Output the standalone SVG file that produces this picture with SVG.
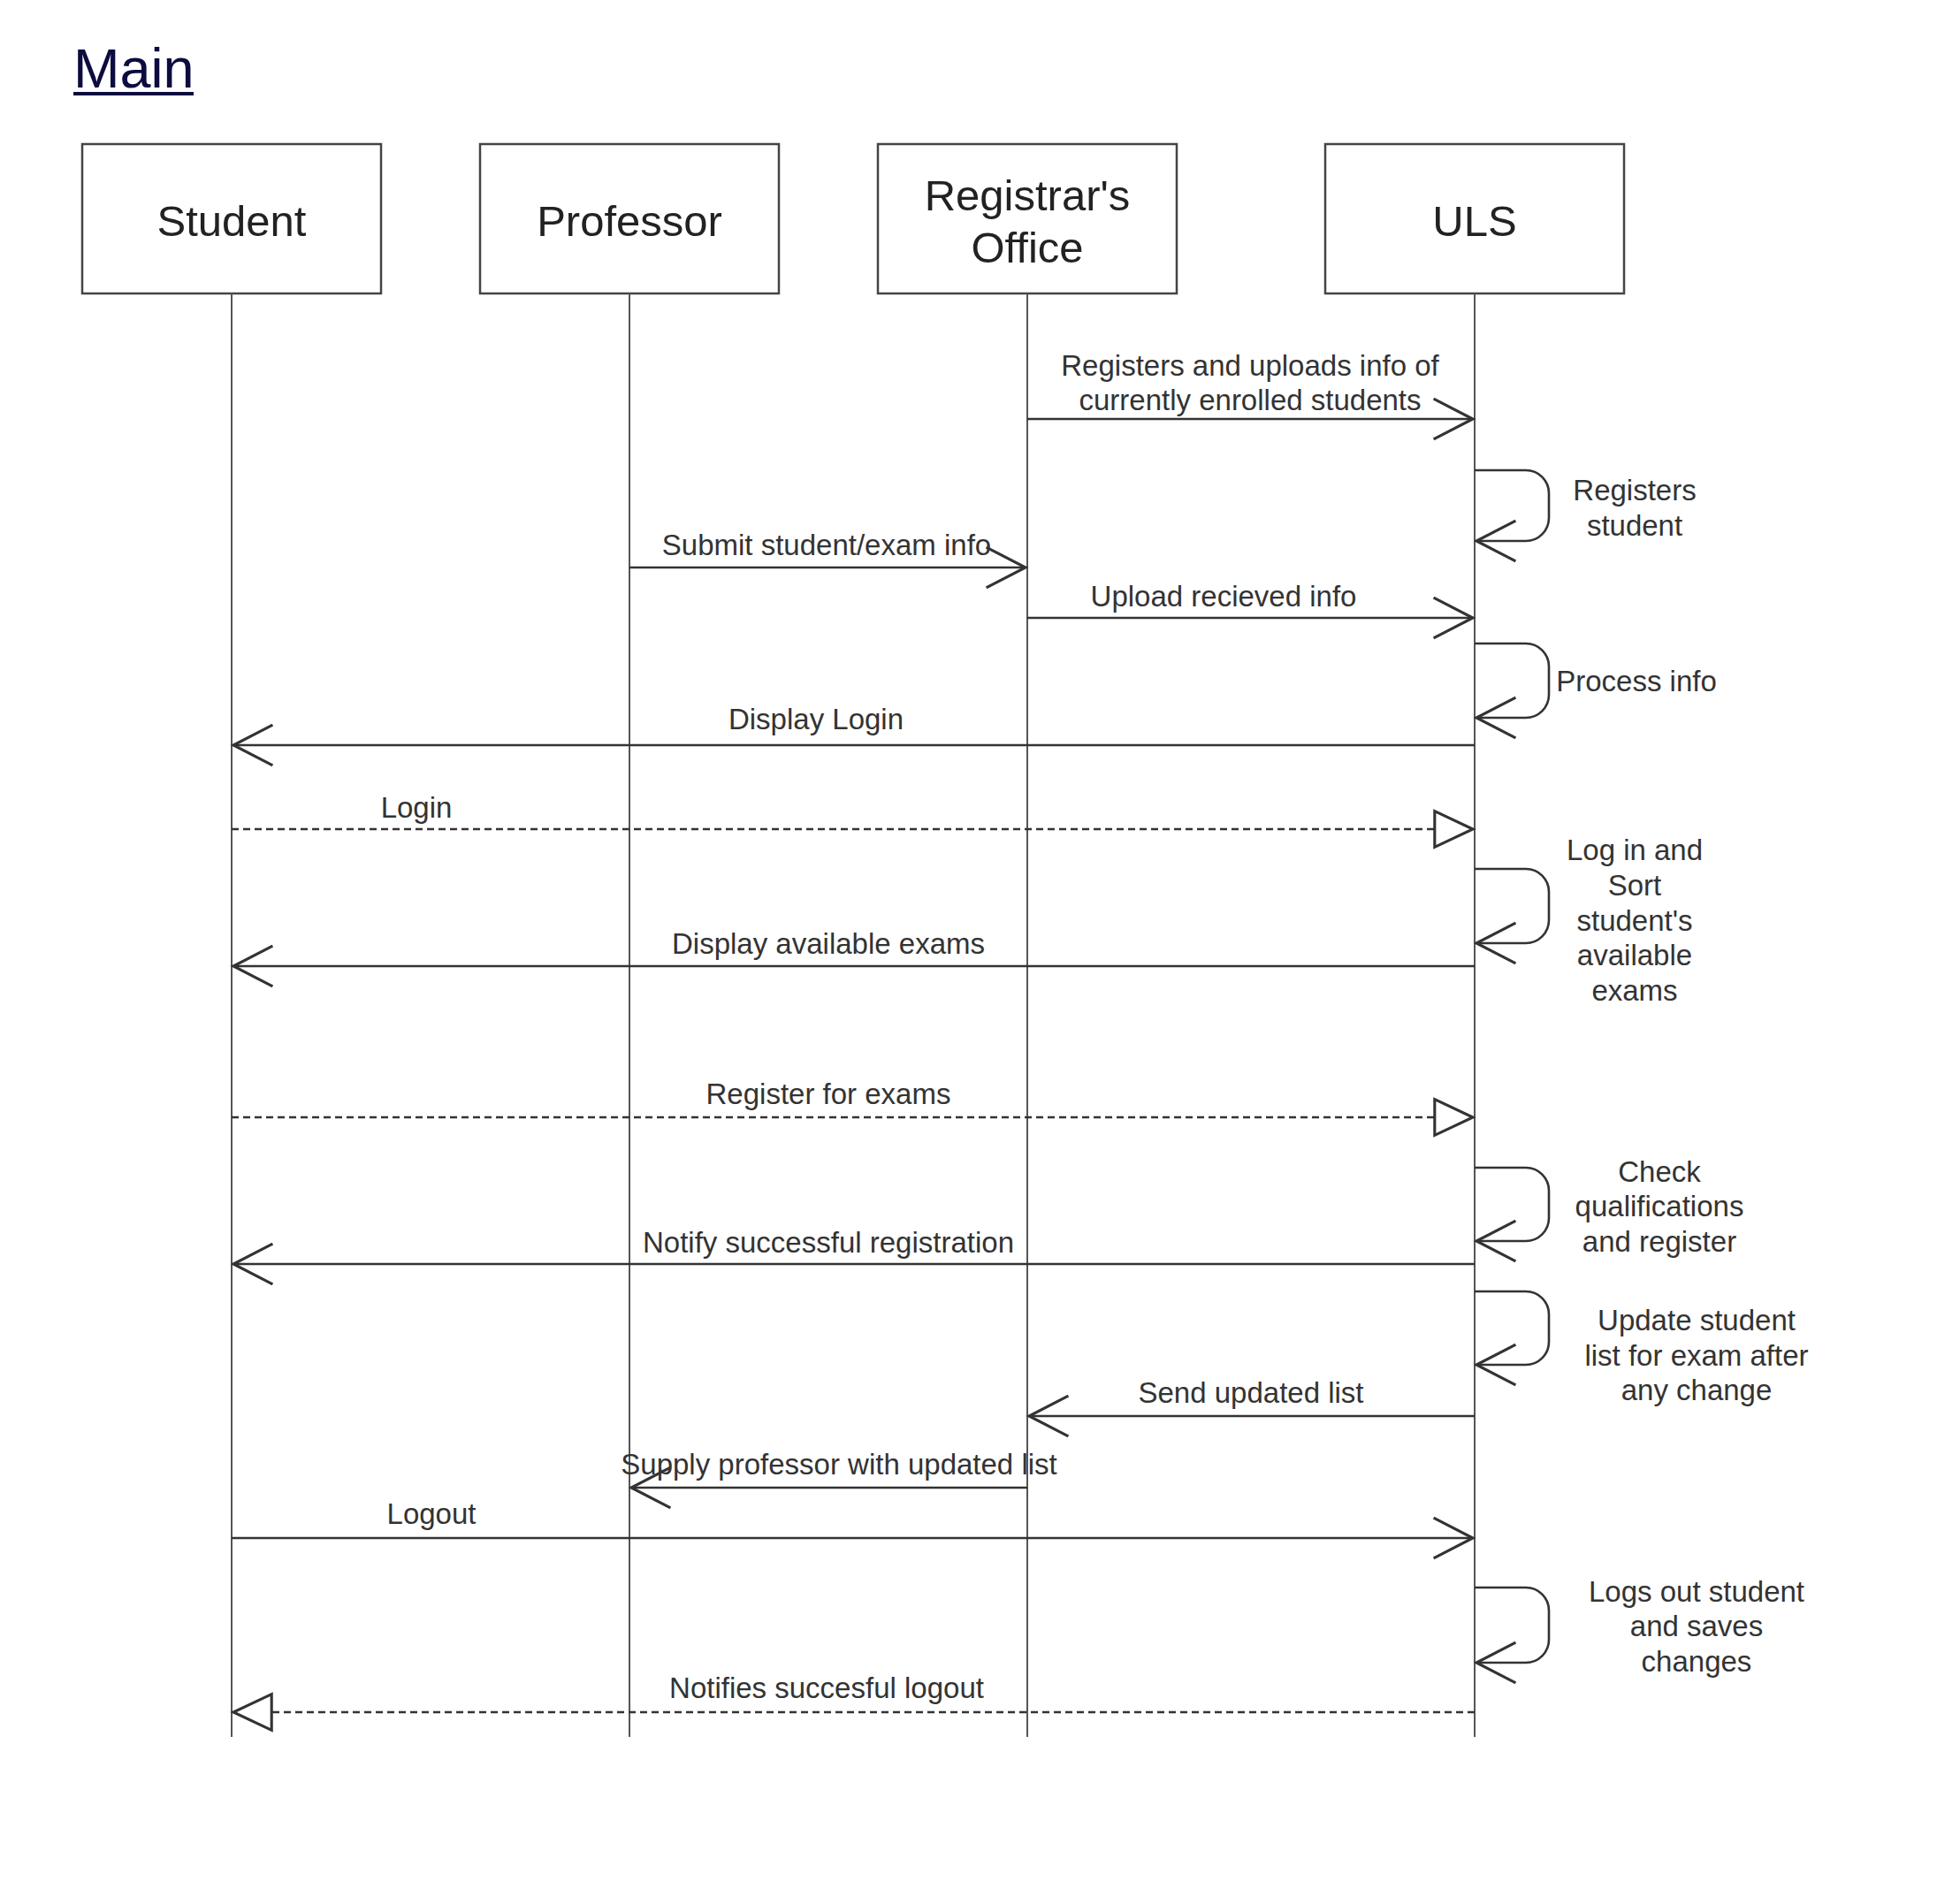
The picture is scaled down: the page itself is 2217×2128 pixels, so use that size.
<svg xmlns="http://www.w3.org/2000/svg" width="2217" height="2128" viewBox="0 0 2217 2128">
<style>
.box{fill:#fff;stroke:#444;stroke-width:2.5}
.life{stroke:#555;stroke-width:2;fill:none}
.msg{stroke:#333;stroke-width:2.6;fill:none}
.dash{stroke-dasharray:8 5}
.lbl{font-family:"Liberation Sans",Arial,Helvetica,sans-serif;font-size:33px;fill:#333;text-anchor:middle}
.name{font-family:"Liberation Sans",Arial,Helvetica,sans-serif;font-size:49px;fill:#222;text-anchor:middle}
</style>
<defs>
<marker id="open" markerUnits="userSpaceOnUse" markerWidth="60" markerHeight="60" viewBox="-45 -25 50 50" refX="0" refY="0" orient="auto">
<path d="M -37 -19 L 0 0 L -37 19" fill="none" stroke="#333" stroke-width="2.6" stroke-dasharray="none"/>
</marker>
<marker id="tri" markerUnits="userSpaceOnUse" markerWidth="60" markerHeight="60" viewBox="-45 -25 50 50" refX="0" refY="0" orient="auto">
<path d="M -36 -17 L 0 0 L -36 17 Z" fill="#fff" stroke="#333" stroke-width="2.6" stroke-dasharray="none"/>
</marker>
</defs>
<rect width="2217" height="2128" fill="#fff"/>
<g id="title">
<text x="83" y="99" font-family="'Liberation Sans',Arial,sans-serif" font-size="63" fill="#0c0c40">Main</text>
<rect x="83" y="104" width="136" height="4" fill="#0c0c40"/>
</g>
<g id="student">
<rect class="box" x="93" y="163" width="338" height="169"/>
<text class="name" x="262" y="267">Student</text>
<line class="life" x1="262" y1="332" x2="262" y2="1965"/>
</g>
<g id="professor">
<rect class="box" x="543" y="163" width="338" height="169"/>
<text class="name" x="712" y="267">Professor</text>
<line class="life" x1="712" y1="332" x2="712" y2="1965"/>
</g>
<g id="registrar">
<rect class="box" x="993" y="163" width="338" height="169"/>
<text class="name" x="1162" y="238">Registrar's</text>
<text class="name" x="1162" y="297">Office</text>
<line class="life" x1="1162" y1="332" x2="1162" y2="1965"/>
</g>
<g id="uls">
<rect class="box" x="1499" y="163" width="338" height="169"/>
<text class="name" x="1668" y="267">ULS</text>
<line class="life" x1="1668" y1="332" x2="1668" y2="1965"/>
</g>
<g id="connectors">
<path class="msg" d="M1162 474 H1666" marker-end="url(#open)"/>
<path class="msg" d="M1668 532 H1726 A26 26 0 0 1 1752 558 V586 A26 26 0 0 1 1726 612 H1670" marker-end="url(#open)"/>
<path class="msg" d="M712 642 H1160" marker-end="url(#open)"/>
<path class="msg" d="M1162 699 H1666" marker-end="url(#open)"/>
<path class="msg" d="M1668 728 H1726 A26 26 0 0 1 1752 754 V786 A26 26 0 0 1 1726 812 H1670" marker-end="url(#open)"/>
<path class="msg" d="M1668 843 H264" marker-end="url(#open)"/>
<path class="msg dash" d="M262 938 H1666" marker-end="url(#tri)"/>
<path class="msg" d="M1668 983 H1726 A26 26 0 0 1 1752 1009 V1041 A26 26 0 0 1 1726 1067 H1670" marker-end="url(#open)"/>
<path class="msg" d="M1668 1093 H264" marker-end="url(#open)"/>
<path class="msg dash" d="M262 1264 H1666" marker-end="url(#tri)"/>
<path class="msg" d="M1668 1321 H1726 A26 26 0 0 1 1752 1347 V1378 A26 26 0 0 1 1726 1404 H1670" marker-end="url(#open)"/>
<path class="msg" d="M1668 1430 H264" marker-end="url(#open)"/>
<path class="msg" d="M1668 1461 H1726 A26 26 0 0 1 1752 1487 V1518 A26 26 0 0 1 1726 1544 H1670" marker-end="url(#open)"/>
<path class="msg" d="M1668 1602 H1164" marker-end="url(#open)"/>
<path class="msg" d="M1162 1683 H714" marker-end="url(#open)"/>
<path class="msg" d="M262 1740 H1666" marker-end="url(#open)"/>
<path class="msg" d="M1668 1796 H1726 A26 26 0 0 1 1752 1822 V1855 A26 26 0 0 1 1726 1881 H1670" marker-end="url(#open)"/>
<path class="msg dash" d="M1668 1937 H264" marker-end="url(#tri)"/>
</g>
<g id="labels">
<text class="lbl" x="1414" y="425">Registers and uploads info of</text>
<text class="lbl" x="1414" y="464">currently enrolled students</text>
<text class="lbl" x="1849" y="566">Registers</text>
<text class="lbl" x="1849" y="606">student</text>
<text class="lbl" x="935" y="628">Submit student/exam info</text>
<text class="lbl" x="1384" y="686">Upload recieved info</text>
<text class="lbl" x="1851" y="782">Process info</text>
<text class="lbl" x="923" y="825">Display Login</text>
<text class="lbl" x="471" y="925">Login</text>
<text class="lbl" x="1849" y="973">Log in and</text>
<text class="lbl" x="1849" y="1013">Sort</text>
<text class="lbl" x="1849" y="1053">student's</text>
<text class="lbl" x="1849" y="1092">available</text>
<text class="lbl" x="1849" y="1132">exams</text>
<text class="lbl" x="937" y="1079">Display available exams</text>
<text class="lbl" x="937" y="1249">Register for exams</text>
<text class="lbl" x="1877" y="1337">Check</text>
<text class="lbl" x="1877" y="1376">qualifications</text>
<text class="lbl" x="1877" y="1416">and register</text>
<text class="lbl" x="937" y="1417">Notify successful registration</text>
<text class="lbl" x="1919" y="1505">Update student</text>
<text class="lbl" x="1919" y="1545">list for exam after</text>
<text class="lbl" x="1919" y="1584">any change</text>
<text class="lbl" x="1415" y="1587">Send updated list</text>
<text class="lbl" x="949" y="1668">Supply professor with updated list</text>
<text class="lbl" x="488" y="1724">Logout</text>
<text class="lbl" x="1919" y="1812">Logs out student</text>
<text class="lbl" x="1919" y="1851">and saves</text>
<text class="lbl" x="1919" y="1891">changes</text>
<text class="lbl" x="935" y="1921">Notifies succesful logout</text>
</g>
</svg>
